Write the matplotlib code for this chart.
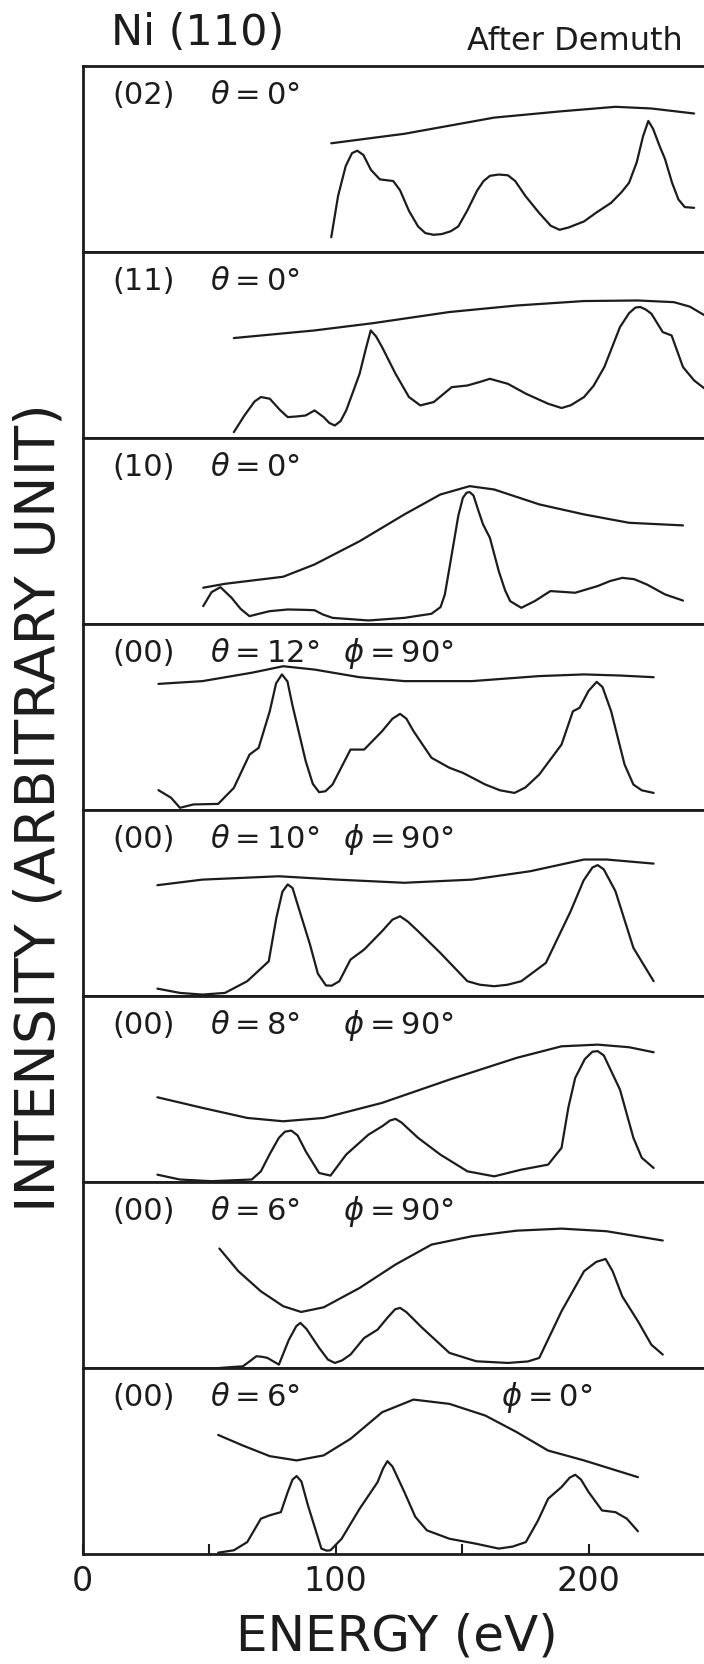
import matplotlib.pyplot as plt

# energies (eV) and intensities (fraction of panel height)
# (02) theta=0
p02_env_e = [98.3, 127.2, 162.7, 189.3, 210.6, 224.8, 241.7]
p02_env_y = [0.583, 0.634, 0.721, 0.755, 0.779, 0.770, 0.743]
p02_iv_e = [98.3, 101.0, 104.0, 106.5, 108.6, 111.0, 114.0, 117.5, 122.8, 125.5,
            129.0, 132.6, 135.5, 138.8, 142.0, 145.5, 148.5, 152.0, 156.0, 158.5,
            161.0, 164.5, 168.1, 171.0, 175.0, 180.5, 185.0, 188.5, 192.0, 198.2,
            203.0, 208.9, 213.0, 216.0, 219.0, 221.5, 223.6, 225.5, 228.0, 230.2,
            233.0, 235.5, 238.0, 241.7]
p02_iv_y = [0.078, 0.300, 0.460, 0.530, 0.543, 0.520, 0.440, 0.389, 0.380, 0.330,
            0.220, 0.136, 0.100, 0.091, 0.095, 0.110, 0.136, 0.220, 0.330, 0.380,
            0.408, 0.415, 0.411, 0.380, 0.300, 0.208, 0.140, 0.118, 0.130, 0.163,
            0.210, 0.263, 0.320, 0.371, 0.480, 0.620, 0.703, 0.660, 0.570, 0.498,
            0.370, 0.281, 0.240, 0.236]

# (11) theta=0
p11_env_e = [59.8, 91.7, 114.8, 145.0, 171.6, 198.2, 219.5, 233.7, 240.0, 245.6]
p11_env_y = [0.536, 0.577, 0.616, 0.676, 0.711, 0.735, 0.738, 0.729, 0.705, 0.660]
p11_iv_e = [59.8, 64.0, 68.0, 70.5, 74.0, 78.0, 81.1, 85.0, 88.2, 91.7, 95.3,
            97.5, 99.7, 102.0, 104.2, 107.0, 109.5, 112.0, 113.9, 116.0, 118.4,
            123.7, 129.0, 133.5, 138.8, 145.9, 152.1, 157.0, 161.0, 168.1, 175.2,
            184.0, 189.3, 193.0, 198.2, 202.0, 206.2, 212.4, 216.0, 218.5, 220.4,
            222.5, 224.8, 229.3, 232.8, 237.3, 241.7, 245.8]
p11_iv_y = [0.030, 0.120, 0.195, 0.219, 0.210, 0.150, 0.111, 0.115, 0.120, 0.147,
            0.111, 0.080, 0.066, 0.090, 0.147, 0.250, 0.344, 0.480, 0.577, 0.545,
            0.487, 0.344, 0.219, 0.174, 0.192, 0.272, 0.281, 0.300, 0.317, 0.290,
            0.237, 0.183, 0.160, 0.175, 0.219, 0.280, 0.380, 0.595, 0.670, 0.700,
            0.703, 0.690, 0.667, 0.568, 0.550, 0.380, 0.308, 0.265]

# (10) theta=0
p10_env_e = [47.7, 56.3, 79.3, 91.7, 109.5, 127.2, 141.4, 153.0, 162.7, 180.5,
             198.2, 216.0, 237.3]
p10_env_y = [0.194, 0.215, 0.253, 0.319, 0.444, 0.588, 0.695, 0.740, 0.722, 0.642,
             0.588, 0.543, 0.529]
p10_iv_e = [47.7, 51.0, 54.5, 58.9, 62.5, 66.0, 70.0, 74.0, 81.1, 88.0, 91.7,
            95.0, 98.8, 113.0, 127.2, 137.9, 141.5, 143.2, 145.0, 146.8, 148.5,
            150.3, 151.8, 153.0, 154.5, 156.5, 158.3, 161.0, 164.5, 167.0, 169.0,
            173.4, 178.7, 184.9, 194.7, 203.6, 208.5, 213.3, 218.0, 223.1, 230.2,
            237.3]
p10_iv_y = [0.095, 0.170, 0.197, 0.140, 0.080, 0.041, 0.055, 0.068, 0.077, 0.075,
            0.073, 0.050, 0.032, 0.018, 0.032, 0.054, 0.090, 0.158, 0.300, 0.444,
            0.580, 0.677, 0.705, 0.708, 0.690, 0.606, 0.534, 0.462, 0.283, 0.180,
            0.122, 0.086, 0.122, 0.176, 0.167, 0.203, 0.230, 0.247, 0.240, 0.211,
            0.158, 0.125]

# (00) theta=12 phi=90
p00a_env_e = [30.0, 47.4, 66.9, 79.3, 91.7, 109.5, 127.2, 153.9, 180.5, 198.2,
              212.4, 225.7]
p00a_env_y = [0.677, 0.692, 0.737, 0.772, 0.754, 0.713, 0.692, 0.692, 0.719, 0.728,
              0.722, 0.713]
p00a_iv_e = [30.0, 35.0, 38.5, 43.8, 53.6, 59.8, 66.0, 69.6, 74.0, 76.5, 78.8,
             81.0, 82.9, 88.2, 91.0, 93.5, 96.0, 98.8, 105.9, 111.3, 118.4, 122.5,
             125.5, 128.0, 130.8, 137.9, 145.0, 150.3, 159.2, 165.0, 170.7, 175.0,
             180.5, 189.3, 193.8, 196.4, 200.0, 203.2, 205.5, 208.9, 214.2, 217.7,
             221.0, 225.7]
p00a_iv_y = [0.106, 0.065, 0.011, 0.029, 0.032, 0.118, 0.297, 0.333, 0.530, 0.680,
             0.728, 0.690, 0.566, 0.262, 0.140, 0.095, 0.100, 0.136, 0.324, 0.324,
             0.423, 0.490, 0.516, 0.490, 0.423, 0.280, 0.226, 0.199, 0.136, 0.105,
             0.091, 0.120, 0.190, 0.351, 0.530, 0.548, 0.640, 0.688, 0.660, 0.530,
             0.244, 0.136, 0.105, 0.091]

# (00) theta=10 phi=90
p00b_env_e = [29.6, 47.4, 77.6, 100.6, 127.2, 153.9, 176.9, 198.2, 207.1, 225.7]
p00b_env_y = [0.595, 0.625, 0.643, 0.625, 0.608, 0.625, 0.670, 0.733, 0.733, 0.711]
p00b_iv_e = [29.6, 38.5, 47.4, 56.3, 65.1, 73.6, 76.6, 79.0, 81.1, 83.0, 84.6,
             89.9, 93.0, 96.2, 98.5, 101.5, 105.9, 111.3, 118.4, 122.5, 125.5,
             128.5, 132.6, 141.4, 152.1, 157.0, 162.7, 168.0, 173.4, 183.1, 192.9,
             198.0, 201.5, 203.6, 206.0, 210.6, 217.7, 225.7]
p00b_iv_y = [0.039, 0.016, 0.007, 0.016, 0.079, 0.186, 0.419, 0.560, 0.599, 0.580,
             0.509, 0.276, 0.120, 0.056, 0.055, 0.079, 0.195, 0.249, 0.348, 0.410,
             0.428, 0.400, 0.348, 0.231, 0.079, 0.060, 0.052, 0.060, 0.079, 0.177,
             0.455, 0.620, 0.690, 0.703, 0.680, 0.563, 0.258, 0.079]

# (00) theta=8 phi=90
p00c_env_e = [29.6, 47.4, 65.1, 79.3, 95.3, 118.4, 145.0, 171.6, 189.3, 203.6,
              216.0, 225.7]
p00c_env_y = [0.455, 0.398, 0.344, 0.326, 0.344, 0.425, 0.550, 0.667, 0.729, 0.738,
              0.724, 0.697]
p00c_iv_e = [29.6, 38.5, 50.9, 66.9, 70.5, 74.0, 77.6, 80.0, 82.5, 85.0, 88.2,
             93.5, 98.0, 104.2, 113.0, 118.5, 121.5, 123.7, 126.0, 132.6, 141.4,
             152.1, 162.7, 173.4, 184.0, 189.3, 192.0, 194.7, 198.5, 201.5, 203.6,
             206.0, 212.4, 217.7, 221.0, 225.7]
p00c_iv_y = [0.039, 0.013, 0.004, 0.013, 0.057, 0.150, 0.237, 0.270, 0.276, 0.250,
             0.165, 0.048, 0.034, 0.147, 0.254, 0.300, 0.330, 0.339, 0.320, 0.237,
             0.147, 0.057, 0.030, 0.066, 0.093, 0.183, 0.400, 0.559, 0.660, 0.700,
             0.703, 0.680, 0.496, 0.237, 0.130, 0.075]

# (00) theta=6 phi=90
p00d_env_e = [54.1, 61.6, 70.5, 79.3, 86.4, 95.3, 109.5, 123.7, 137.9, 153.9,
              171.6, 189.3, 207.1, 229.3]
p00d_env_y = [0.642, 0.520, 0.412, 0.332, 0.301, 0.326, 0.430, 0.556, 0.663, 0.708,
              0.738, 0.749, 0.735, 0.685]
p00d_iv_e = [54.1, 63.4, 66.0, 68.7, 71.0, 73.1, 77.6, 81.5, 84.5, 86.1, 88.5,
             93.5, 97.0, 99.7, 102.5, 105.9, 111.3, 116.6, 120.5, 123.5, 125.5,
             128.0, 134.3, 145.0, 155.6, 168.1, 176.0, 180.5, 189.3, 198.2, 203.0,
             206.7, 209.5, 213.3, 219.5, 224.8, 229.3]
p00d_iv_y = [0.000, 0.009, 0.035, 0.063, 0.060, 0.054, 0.018, 0.150, 0.225, 0.242,
             0.210, 0.108, 0.045, 0.027, 0.040, 0.072, 0.161, 0.206, 0.270, 0.315,
             0.323, 0.300, 0.215, 0.081, 0.036, 0.027, 0.035, 0.054, 0.305, 0.520,
             0.570, 0.586, 0.520, 0.385, 0.251, 0.125, 0.072]

# (00) theta=6 phi=0
p00e_env_e = [53.6, 63.4, 74.0, 84.6, 95.3, 105.9, 118.4, 130.8, 145.0, 159.2,
              171.6, 184.0, 198.2, 219.5]
p00e_env_y = [0.640, 0.583, 0.526, 0.503, 0.530, 0.619, 0.762, 0.830, 0.807, 0.744,
              0.655, 0.556, 0.503, 0.413]
p00e_iv_e = [53.6, 59.8, 65.1, 70.5, 74.0, 78.4, 81.1, 83.0, 84.6, 86.5, 89.1,
             94.4, 96.5, 98.0, 102.4, 109.5, 116.6, 118.8, 120.5, 122.5, 127.2,
             131.5, 136.1, 145.0, 155.6, 164.5, 170.0, 175.2, 180.0, 184.0, 189.3,
             192.5, 194.7, 197.0, 200.0, 205.3, 210.6, 215.1, 219.5]
p00e_iv_y = [0.007, 0.020, 0.064, 0.190, 0.208, 0.225, 0.333, 0.400, 0.419, 0.390,
             0.261, 0.029, 0.018, 0.020, 0.082, 0.243, 0.386, 0.460, 0.499, 0.470,
             0.333, 0.200, 0.127, 0.082, 0.055, 0.029, 0.040, 0.064, 0.180, 0.297,
             0.360, 0.410, 0.426, 0.400, 0.333, 0.234, 0.225, 0.190, 0.122]

beams = ['(02)', '(11)', '(10)', '(00)', '(00)', '(00)', '(00)', '(00)']
thetas = ['0°', '0°', '0°', '12°', '10°', '8°', '6°', '6°']
phis = [None, None, None, '90°', '90°', '90°', '90°', '0°']

curves = [
    (p02_env_e, p02_env_y, p02_iv_e, p02_iv_y),
    (p11_env_e, p11_env_y, p11_iv_e, p11_iv_y),
    (p10_env_e, p10_env_y, p10_iv_e, p10_iv_y),
    (p00a_env_e, p00a_env_y, p00a_iv_e, p00a_iv_y),
    (p00b_env_e, p00b_env_y, p00b_iv_e, p00b_iv_y),
    (p00c_env_e, p00c_env_y, p00c_iv_e, p00c_iv_y),
    (p00d_env_e, p00d_env_y, p00d_iv_e, p00d_iv_y),
    (p00e_env_e, p00e_env_y, p00e_iv_e, p00e_iv_y),
]

ink = '#1c1c1c'
W, H = 704, 1665
left = 82.5 / W
top_px, bot_px = 66.7, 1555.0
ph = (bot_px - top_px) / len(curves)
sp = '\u2009'

fig = plt.figure(figsize=(W / 100, H / 100), dpi=100)

for k, (ee, ey, ie, iy) in enumerate(curves):
    y0 = 1 - (top_px + (k + 1) * ph) / H
    ax = fig.add_axes([left, y0, 1 - left, ph / H])
    for xs, ys in [(ee, ey), (ie, iy)]:
        ax.plot(xs, ys, color=ink, lw=1.6, solid_capstyle='round',
                solid_joinstyle='round')
    ax.set_xlim(0, 245.6)
    ax.set_ylim(0, 1)
    ax.spines['right'].set_visible(False)
    for s in ['left', 'top', 'bottom']:
        ax.spines[s].set_linewidth(2)
        ax.spines[s].set_color(ink)
    ax.set_yticks([])

    ax.text(11.7, 0.845, beams[k], fontsize=22, color=ink, va='center')
    ax.text(50.5, 0.845, '$\\theta$' + sp + '=' + sp + thetas[k], fontsize=22,
            color=ink, va='center')
    if phis[k] is not None:
        px = 165.4 if phis[k] == '0°' else 103.0
        ax.text(px, 0.845, '$\\phi$' + sp + '=' + sp + phis[k], fontsize=22,
                color=ink, va='center')

    if k < len(curves) - 1:
        ax.set_xticks([])
    else:
        ax.set_xticks([0, 100, 200])
        ax.set_xticks([50, 150], minor=True)
        ax.tick_params(which='both', direction='in', length=7, width=1.5,
                       color=ink, labelsize=24, labelcolor=ink, pad=7)

fig.text(111 / W, 1 - 33.5 / H, 'Ni (110)', fontsize=31, color=ink, va='center', ha='left')
fig.text(683 / W, 1 - 42 / H, 'After Demuth', fontsize=23, color=ink, va='center', ha='right')
fig.text(397 / W, 1 - 1637 / H, 'ENERGY (eV)', fontsize=36, color=ink, va='center', ha='center')
fig.text(40 / W, 1 - 808 / H, 'INTENSITY (ARBITRARY UNIT)', fontsize=40, color=ink,
         va='center', ha='center', rotation=90)

fig.savefig('out.png', dpi=100, facecolor='white')
